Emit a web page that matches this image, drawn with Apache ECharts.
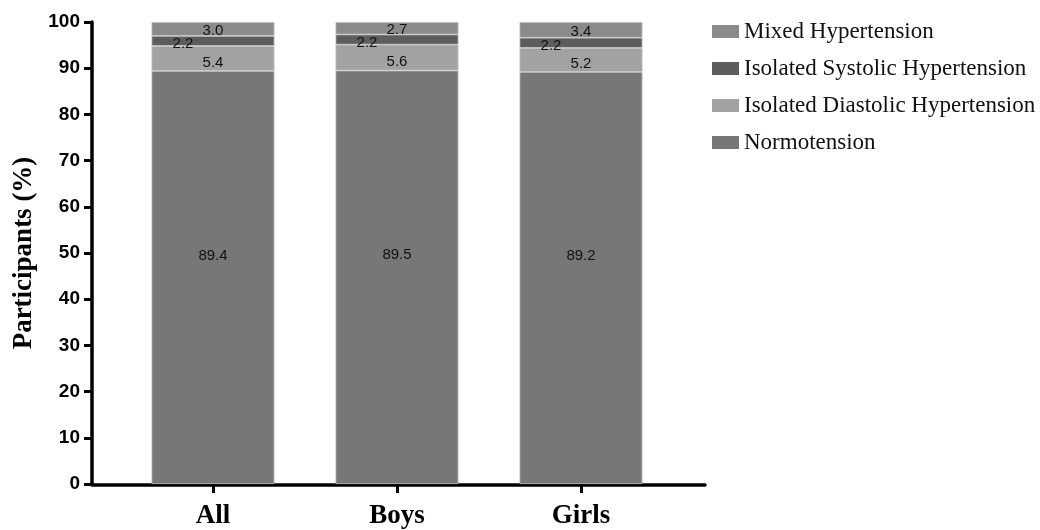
<!DOCTYPE html>
<html><head><meta charset="utf-8">
<script src="https://cdn.jsdelivr.net/npm/echarts@6/dist/echarts.min.js"></script>
<style>html,body{margin:0;padding:0;background:#fff}#c{width:1040px;height:530px}</style>
</head><body><div id="c"></div>
<script>
const categories = ['All', 'Boys', 'Girls'];
const normotension = [89.4, 89.5, 89.2];
const isolatedDiastolic = [5.4, 5.6, 5.2];
const isolatedSystolic = [2.2, 2.2, 2.2];
const mixed = [3.0, 2.7, 3.4];
const yTicks = [0, 10, 20, 30, 40, 50, 60, 70, 80, 90, 100];

const chart = echarts.init(document.getElementById('c'));
const labelBase = {show: true, color: '#111', fontFamily: 'Liberation Sans, Arial', fontSize: 15, formatter: p => Number(p.value).toFixed(1)};
const mk = (name, data, color, labelExtra) => ({
  name, type: 'bar', stack: 'bp', barWidth: 123, data: data,
  xAxisIndex: 0, yAxisIndex: 0,
  itemStyle: {color, borderColor: '#c4c4c4', borderWidth: 0.8},
  label: Object.assign({}, labelBase, labelExtra || {}),
  emphasis: {disabled: true}
});
chart.setOption({
  animation: false,
  grid: [
    {left: 121, right: 367, top: 22, bottom: 45},
    {left: 92, right: 335, top: 22, bottom: 45}
  ],
  legend: {
    data: ['Mixed Hypertension', 'Isolated Systolic Hypertension', 'Isolated Diastolic Hypertension', 'Normotension'],
    orient: 'vertical', left: 707, top: 15, itemWidth: 27, itemHeight: 13, itemGap: 14, icon: 'rect',
    itemStyle: {borderWidth: 0},
    textStyle: {fontFamily: 'Liberation Serif, Times New Roman', fontSize: 23, color: '#111'}
  },
  xAxis: [{
    type: 'category', data: categories, gridIndex: 0, boundaryGap: true,
    axisLine: {show: false},
    axisTick: {show: true, alignWithLabel: true, length: 9, lineStyle: {color: '#000', width: 3}},
    axisLabel: {margin: 19, fontFamily: 'Liberation Serif, Times New Roman', fontWeight: 'bold', fontSize: 27, color: '#000'}
  }, {
    type: 'value', gridIndex: 1, min: 0, max: 1,
    splitLine: {show: false}, axisTick: {show: false}, axisLabel: {show: false},
    axisLine: {show: true, onZero: false, lineStyle: {color: '#000', width: 3.5}}
  }],
  yAxis: [{
    type: 'value', gridIndex: 0, min: 0, max: 100, interval: 10, offset: 29,
    name: 'Participants (%)', nameLocation: 'middle', nameGap: 52,
    nameTextStyle: {fontFamily: 'Liberation Serif, Times New Roman', fontWeight: 'bold', fontSize: 27, color: '#000'},
    splitLine: {show: false},
    axisLine: {show: true, onZero: false, lineStyle: {color: '#000', width: 3.5}},
    axisTick: {show: true, length: 8, lineStyle: {color: '#000', width: 3}},
    axisLabel: {margin: 12, fontFamily: 'Liberation Sans, Arial', fontWeight: 'bold', fontSize: 19, color: '#000',
      formatter: v => yTicks.includes(v) ? String(v) : ''}
  }, {
    type: 'value', gridIndex: 1, min: 0, max: 1, show: false
  }],
  series: [
    mk('Normotension', normotension, '#777777', {position: 'inside', offset: [0, -22]}),
    mk('Isolated Diastolic Hypertension', isolatedDiastolic, '#a2a2a2', {position: 'inside', offset: [0, 4]}),
    mk('Isolated Systolic Hypertension', isolatedSystolic, '#5d5d5d', {position: 'inside', offset: [-30, 3]}),
    mk('Mixed Hypertension', mixed, '#8b8b8b', {position: 'inside', offset: [0, 2]})
  ]
});
</script></body></html>
